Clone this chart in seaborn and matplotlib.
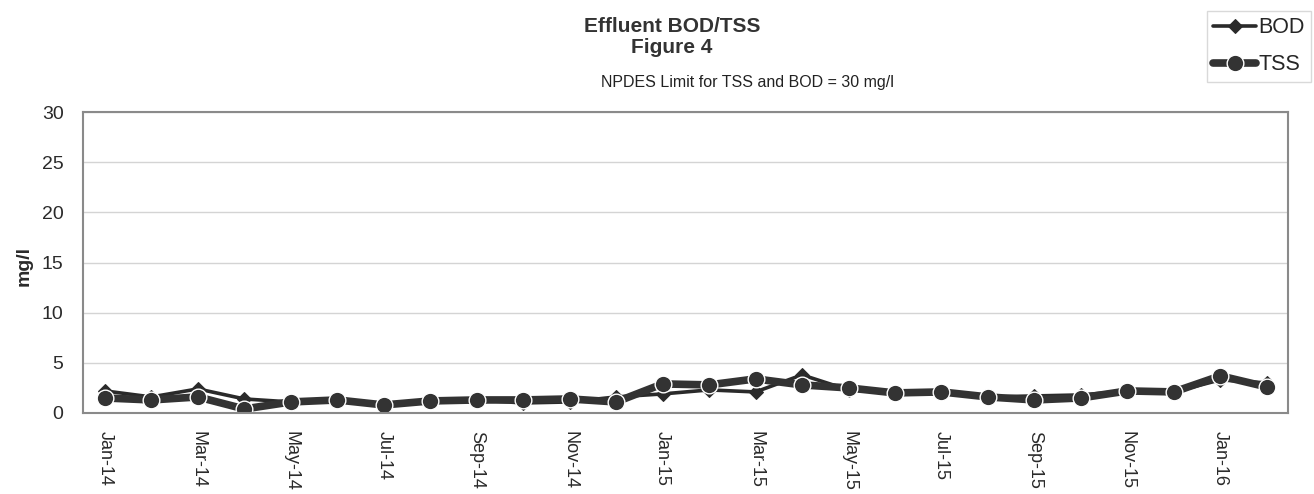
import numpy as np
import pandas as pd
import matplotlib
matplotlib.use("Agg")
import matplotlib.pyplot as plt
import seaborn as sns

months = ["Jan-14", "Feb-14", "Mar-14", "Apr-14", "May-14", "Jun-14", "Jul-14", "Aug-14",
          "Sep-14", "Oct-14", "Nov-14", "Dec-14", "Jan-15", "Feb-15", "Mar-15", "Apr-15",
          "May-15", "Jun-15", "Jul-15", "Aug-15", "Sep-15", "Oct-15", "Nov-15", "Dec-15",
          "Jan-16", "Feb-16"]
bod = [2.2, 1.6, 2.4, 1.4, 1.1, 1.3, 0.8, 1.2, 1.3, 1.0, 1.1, 1.6, 1.9, 2.3, 2.1, 3.8,
       2.3, 2.0, 2.1, 1.6, 1.7, 1.8, 2.2, 2.1, 3.3, 3.0]
tss = [1.5, 1.3, 1.6, 0.4, 1.1, 1.3, 0.8, 1.2, 1.3, 1.3, 1.4, 1.1, 2.9, 2.8, 3.4, 2.8,
       2.5, 2.0, 2.1, 1.6, 1.3, 1.5, 2.2, 2.1, 3.7, 2.6]
yticks = [0, 5, 10, 15, 20, 25, 30]

df = pd.DataFrame({"idx": np.arange(len(months)), "Month": months, "BOD": bod, "TSS": tss})

sns.set_theme(style="white")
plt.rcParams["font.family"] = ["Liberation Sans", "DejaVu Sans"]

fig = plt.figure(figsize=(13.14, 4.94), dpi=100)
ax = fig.add_axes([0.0632, 0.164, 0.9168, 0.609])

dark = "#333333"
sns.lineplot(data=df, x="idx", y="BOD", ax=ax, color="#2a2a2a", linewidth=2.6, marker="D",
             markersize=7, markeredgecolor="#2a2a2a", label="BOD")
sns.lineplot(data=df, x="idx", y="TSS", ax=ax, color=dark, linewidth=5.5, marker="o",
             markersize=12, markeredgecolor="white", markeredgewidth=1.0, label="TSS")

ax.set_xlim(-0.47, len(months) - 0.55)
ax.set_ylim(0, 30)
ax.set_yticks(yticks)
ax.set_yticklabels([str(t) for t in yticks], fontsize=14, color="#2a2a2a")
ax.tick_params(axis="y", pad=14, length=0)
ax.set_xticks(df["idx"][::2])
ax.set_xticklabels(df["Month"][::2], rotation=-90, fontsize=13, color="#2a2a2a")
ax.tick_params(axis="x", pad=13, length=0)
ax.set_xlabel("")
ax.set_ylabel("mg/l", fontsize=14, fontweight="bold", color="#2a2a2a")
ax.yaxis.set_label_coords(-0.0415, 0.49)
ax.yaxis.grid(True, color="#d4d4d4", linewidth=1.0)
for s in ax.spines.values():
    s.set_color("#8a8a8a")
    s.set_linewidth(1.5)

ax.get_legend().remove()
h, l = ax.get_legend_handles_labels()
order = [l.index("BOD"), l.index("TSS")]
fig.legend([h[i] for i in order], [l[i] for i in order], loc="upper right",
           bbox_to_anchor=(1.006, 1.0), fontsize=15.5, frameon=True, fancybox=False,
           edgecolor="#d0d0d0", handlelength=2.0, handletextpad=0.1, borderpad=0.3,
           labelspacing=0.75)

fig.text(0.5115, 0.947, "Effluent BOD/TSS", ha="center", va="center", fontsize=15, fontweight="bold", color="#333333")
fig.text(0.5115, 0.903, "Figure 4", ha="center", va="center", fontsize=15, fontweight="bold", color="#333333")
fig.text(0.569, 0.834, "NPDES Limit for TSS and BOD = 30 mg/l", ha="center", va="center", fontsize=11.5, color="#222222")

fig.savefig("out.png", dpi=100)
